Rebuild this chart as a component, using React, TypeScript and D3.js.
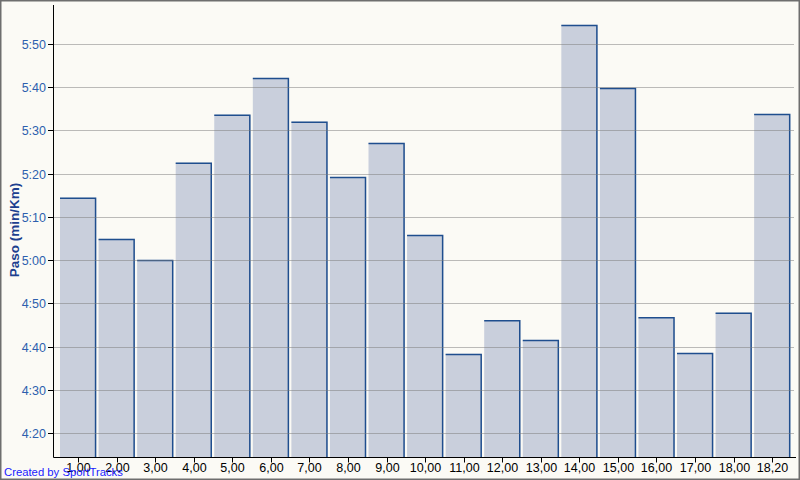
import React from "react";
import * as d3 from "d3";

const categories = ["1,00","2,00","3,00","4,00","5,00","6,00","7,00","8,00","9,00","10,00","11,00","12,00","13,00","14,00","15,00","16,00","17,00","18,00","18,20"];
// pace in seconds per km
const paceSeconds = [314.4,304.9,300.0,322.5,333.6,342.1,332.0,319.2,327.1,305.8,278.3,286.1,281.5,354.4,339.8,286.8,278.5,287.8,333.8];
const yTicks = [260,270,280,290,300,310,320,330,340,350];

const fmt = (s: number) => `${Math.floor(s / 60)}:${String(Math.round(s % 60)).padStart(2, "0")}`;

export default function App() {
  const W = 800, H = 480;
  const axisX = 53.5, axisY = 457.5;
  const x = d3.scaleBand<string>().domain(categories).range([57.5, 792.7]).paddingInner(0.065).paddingOuter(0.065);
  const y = d3.scaleLinear().domain([254.45, 359.0]).range([457, 5]);
  const bw = x.bandwidth();
  return (
    <div style={{ position: "fixed", left: 0, top: 0 }}>
      <svg width={W} height={H} style={{ display: "block", fontFamily: "'Liberation Sans', Arial, sans-serif" }}>
        <rect x={0} y={0} width={W} height={H} fill="#fbfaf5" />
        {categories.map((c, i) => {
          const x0 = x(c)!;
          const yt = y(paceSeconds[i]);
          return (
            <g key={c}>
              <rect x={x0} y={yt} width={bw} height={axisY - yt} fill="#c9cfdc" />
              <path d={`M${x0},${yt + 0.5}H${x0 + bw - 0.5}V${axisY}`} fill="none" stroke="#1f4e8e" strokeWidth={1.5} />
            </g>
          );
        })}
        {yTicks.map((t) => (
          <g key={t}>
            <line x1={axisX} x2={794} y1={Math.round(y(t)) + 0.5} y2={Math.round(y(t)) + 0.5} stroke="#7a7a7a" strokeDasharray="1,1" />
            <line x1={48} x2={axisX} y1={Math.round(y(t)) + 0.5} y2={Math.round(y(t)) + 0.5} stroke="#000" />
            <text x={46} y={Math.round(y(t)) + 4.5} textAnchor="end" fontSize={12.5} fill="#2d5fae">{fmt(t)}</text>
          </g>
        ))}
        <line x1={axisX} x2={axisX} y1={5} y2={axisY} stroke="#000" />
        <line x1={axisX} x2={796} y1={axisY} y2={axisY} stroke="#000" />
        {categories.map((c) => {
          const cx = Math.round(x(c)! + bw / 2) + 0.5;
          return (
            <g key={"t" + c}>
              <line x1={cx} x2={cx} y1={axisY} y2={axisY + 5} stroke="#000" />
              <text x={cx} y={472} textAnchor="middle" fontSize={12.5} fill="#000">{c}</text>
            </g>
          );
        })}
        <text transform="translate(19,230) rotate(-90)" textAnchor="middle" fontSize={13.5} fontWeight="bold" fill="#1d3f8f">Paso (min/Km)</text>
        <text x={4} y={476} fontSize={11.3} fill="#1a1aff">Created by SportTracks</text>
        <rect x={0.5} y={0.5} width={W - 1} height={H - 1} fill="none" stroke="#6e6e6e" strokeWidth={2} />
      </svg>
    </div>
  );
}
